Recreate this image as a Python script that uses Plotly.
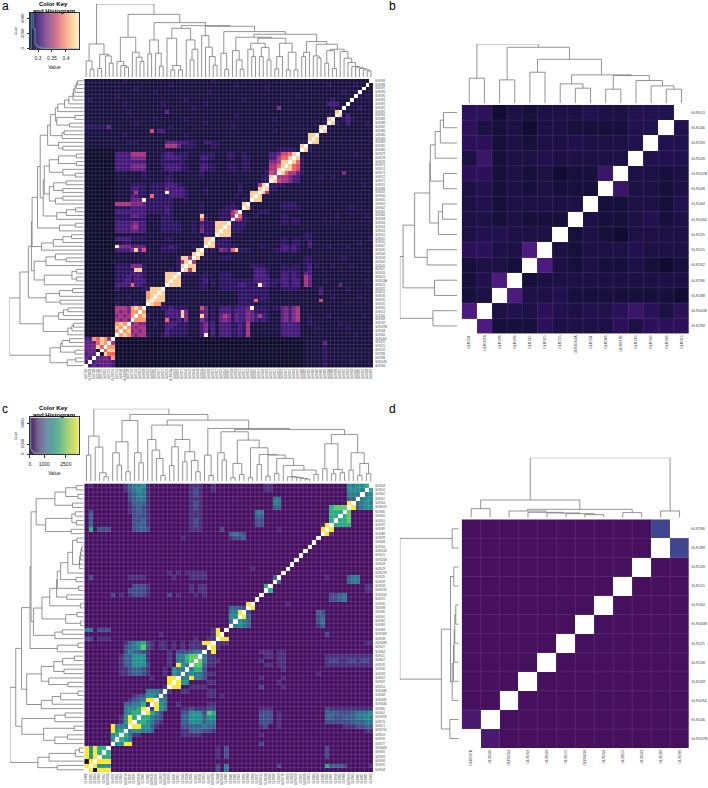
import plotly.graph_objects as go

W, H = 708, 788

# colours of the heat levels, last one is the white diagonal
colors_a = ["#0d0a2c", "#170f3e", "#2a1160", "#43177a", "#5f1e80", "#7d2482", "#a9327c",
            "#d0456f", "#f1605d", "#fd9668", "#fecd90", "#fcf5b8", "#ffffff"]
colors_b = ["#120c33", "#170f3c", "#1c1044", "#21114e", "#2b1159", "#3a1667", "#4d1a80", "#ffffff"]
colors_c = ["#120a1c", "#470f62", "#472d7b", "#3f4a8a", "#35608d", "#2a788e", "#21908c",
            "#27ad81", "#5cc863", "#aadc32", "#fde725", "#ffffff"]
colors_d = ["#46105f", "#4a1a72", "#40458f", "#ffffff"]
key_colors_a = ["#1c1a3a", "#5a3a8a", "#8f5a9a", "#c8708f", "#f49a8a", "#fdd0a0", "#fdf2c0"]
key_colors_c = ["#46205f", "#7a6a9a", "#6f8fa8", "#5aaa9a", "#7cc48a", "#c0d870", "#f5e860"]

# panel a, one string per row from the bottom, cells left of the diagonal
rows_a = [
    "",
    "3",
    "43",
    "344",
    "4440",
    "445a8",
    "4448a9",
    "3398a96",
    "00000000",
    "00000000 9",
    "00000000 a9",
    "00000000 9a9",
    "00000000 6565",
    "00000000 56569",
    "00000000 656599",
    "00000000 6665 9a9",
    "00000000 21111211",
    "00000000 11111111 a",
    "00000000 11121111 9a",
    "00000000 11111111 9aa",
    "00000000 21111112 2aaa",
    "00000000 33338332 11111",
    "00000000 22332333 11111 a",
    "00000000 22232332 11111 aa",
    "00000000 22223332 11111 aaa",
    "00000000 22222aa2 11111 1212",
    "00000000 22225552 11111 1112 a",
    "00000001 11111111 11111 1112 6a",
    "00000000 11111111 11111 1112 aa6",
    "00000000 11111111 11111 1111 111a",
    "00000000 33335a47 11112 2221 1111 a",
    "00000000 b5553444 11112 2322 1112 12",
    "00000000 11221111 11111 1111 1111 11a",
    "00000000 33332222 11111 2211 1111 12aa",
    "00000000 11111111 11111 1111 1111 11221",
    "00000000 33334433 11112 2222 1112 15222a",
    "00000000 33335633 11112 2222 1112 14222aa",
    "00000000 33334533 11112 2222 1112 13222aaa",
    "00000000 22222222 11112 2211 1111 18211122 2",
    "00000000 22224433 11112 2211 1111 1a211122 26",
    "00000000 33333333 22222 3211 1111 12111122 268",
    "00000000 22223333 22222 3211 1111 12111112 2221",
    "00000000 66665554 22222 2211 1111 12111111 1211a",
    "00000000 1111444b 22222 2211 1211 11111111 111121",
    "00000000 11113322 18222 2333 3211 11111111 112111a",
    "00000000 11112622 12222 b333 3211 11211111 111211aa",
    "00000000 11113322 12222 4333 3211 11211111 11121111 a",
    "00000000 11112222 12222 3332 2111 11111111 11121111 6a",
    "00000000 11111111 11111 2211 1111 11111111 11111111 122",
    "00000000 11111112 11111 2211 1111 12111111 11111111 122a",
    "00000000 11111112 11111 1211 1111 12111111 11111111 11276",
    "00000000 33334444 11112 3333 2211 13322111 22212211 11266a",
    "00000000 33335555 11112 3333 2211 13322111 22212211 111668a",
    "00000000 33333333 11112 2222 2111 12211111 11112211 111556aa",
    "00000000 33335555 11112 3333 2211 13322111 22112211 11133688 a",
    "00000000 33336666 11112 3322 2211 12222111 22112111 11133477 8a",
    "00000000 11111111 11111 1111 1111 11111111 11111111 11111222 221",
    "11111111 11111111 11111 6664 2222 11112211 11111111 11111111 111a",
    "11111111 11122211 11111 4443 3322 11332211 11111111 11111111 11122",
    "11111111 11111111 11111 1111 1111 11111111 11111111 11111111 11111a",
    "11111111 11211111 11111 1111 1211 11111111 11111111 11111111 11111aa",
    "11111111 11111111 17133 1111 1111 11111111 11111111 11112111 11111111",
    "22222241 11111111 11111 1211 1111 11111111 12111111 11111111 11111111 a",
    "11111111 11111211 11111 1111 1111 11211111 11111111 11111111 11111111 12",
    "11111111 11111111 11211 1111 1211 11111111 11111111 11112111 11111111 11a",
    "11111111 11111111 11111 1111 1111 11111111 11211111 11111111 11111111 1121",
    "11111111 11121111 11111 4111 1111 11111111 11111111 11111111 11111111 1111a",
    "11111111 11111111 11111 1111 1112 11111111 11111111 11111511 11111111 111211",
    "11111111 11211111 11112 1111 1111 11211111 11111111 11111111 11111111 1133311",
    "12111111 11111111 11111 1111 1211 11111111 11112111 11111111 11111111 11121111",
    "11111111 21111111 11111 1111 1111 11111111 11111111 11111111 11211111 11111111 1",
    "11111111 11111111 11211 1111 1111 11121111 11111111 11111111 11111111 11111121 12",
    "11111111 11111211 11111 1111 1111 11111111 11111111 11211111 11111111 11111111 111",
    "11111111 11111111 11111 1211 1111 11111111 11211111 11111111 11111111 11211111 1211",
    "11111111 11211111 11111 1111 1111 11112111 11111111 11111111 11111111 11111111 11111",
]

# panel c, same way, "." is the background, k the black cell
rows_c = [
    "",
    "9",
    "k9",
    "959",
    "9596",
    "95966",
    "......",
    "...... 5",
    "...... 56",
    "...... 956",
    "...... 9444",
    "...... ..159",
    "...... ..1596",
    "...... ...4566",
    "...... ...45569",
    "...... ...334461",
    "...... ....12349 9",
    "...... .....1225 54",
    "...... ........4 443",
    "...... ......... ...1",
    "...... ......... ....9",
    "...... ......... 1...99",
    "...... ..1123321 ...1.54",
    "...... ..1123321 ...1.544",
    "...... ..1335552 ....1.954",
    "...... ..1335551 ....1.4467",
    "...... ..1335551 ....1.44677",
    "...... ...243321 ....1.222344",
    "...... ...234572 1.11.1.1.1111",
    "...... ...134562 1.11.1.1.11199",
    "22.111 ......... ..........1..11",
    "...... ......... ..1...........1 9",
    "44.222 ......... ..............1 9.",
    "...... ......... ............... ...",
    "...... ......... ............... ...4",
    "...... ......... ............... ...55",
    "...... ......... ............... ...449",
    "...... ......... ............... ...3332",
    "...... ......... ............... .......9",
    "...... ......... ............... .........",
    "...... 2.1.12221 ....2.1...1.1.. ..........",
    "...... ....22221 .........1.11.. ...........",
    "...... .....2221 .........1.11.. ...........6",
    "...... ......... ............... .............",
    ".2.... ....1111. .....1...1111.. .............3",
    "...... ......... ....1.1.11111.. ...............",
    "...... ......... ............... ........1...... .",
    "...... ......... ............... ............... ..",
    "...... ......... ............... ............... ...",
    "...... ......... ............... ............... ....",
    "...... ......... ............... ............... .....",
    "...... ......... ............... ............... ......",
    "...... ......... ............... ............... .......",
    "...... ......... .......1....... ...1223........ ........",
    "...... ......... ............... ...3432........ .........",
    ".6.222 .....2332 .........111... .2............1 .........9",
    ".3.... .....2331 .........121... .........22.... .........19",
    ".3.... .....2231 .........121... .........22.... ...........6",
    ".3.... .....2221 .........111... .........33.... ...........66",
    ".2.... ....12321 .........111... .........44.... ...........666",
    "...... ....12321 .........121... .............33 ...........6777",
    "...... ....13331 .........121... .............44 ............... 9",
    "...... ....23441 .........111... .............44 ............... 33",
    "...... ....23441 .........121... ............... ............... 444",
    "...... ...134541 .........121..1 ...........11.. ............... 5554",
    ".1.... ...134451 .........111..1 ...........11.. ............... 54556",
]

rows_b = ["", "6", "12", "136", "1221", "44226", "233222", "2212111", "23122222", "231212111",
          "4412120115", "25122322222", "441212232223", "4212022111133", "44021222322333"]
rows_d = ["", "1", "00", "000", "0000", "00000", "000000", "0000000", "00000000", "000000000",
          "0000000000", "00000000002"]

# leaf order, bottom to top and left to right
names_a = ("GLR284 GLR0038 GLR288 GLR286 GLR242 GLR015 GLR225 GLR0264 GLR264 GLR048 GLR037B GLR249 GLR269 "
           "GLR246 GLR013 GLR030 GLR031 GLR035 GLR036 GLR021 GLR022 GLR023 GLR024A GLR024 GLR026 GLR027 "
           "GLR041 GLR042 GLR043 GLR044 GLR045 GLR047 GLR050 GLR051 GLR052 GLR053 GLR054 GLR056 GLR058 "
           "GLR060 GLR061 GLR062 GLR063 GLR065 GLR066 GLR067 GLR068 GLR070 GLR071 GLR072 GLR073 GLR074 "
           "GLR075 GLR076 GLR078 GLR079 GLR080 GLR081 GLR082 GLR083 GLR085 GLR086 GLR087 GLR088 GLR089 "
           "GLR090 GLR091 GLR092 GLR093 GLR094 GLR095 GLR096 GLR097 GLR098 GLR099").split()
names_c = ("GLR008 GLR091 GLR094 GLR093 GLR092 GLR0608 GLR077 GLR055 GLR053 GLR0710 GLR071 GLR076 GLR0978 "
           "GLR001 GLR085 GLR0636 GLR0696 GLR069 GLR0348 GLR014 GLR037 GLR052 GLR033 GLR030 GLR035 GLR057 "
           "GLR011 GLR064 GLR027 GLR0698 GLR038 GLR0368 GLR083 GLR081 GLR087 GLR061 GLR096 GLR098 GLR090 "
           "GLR072 GLR0314 GLR0118 GLR034 GLR039 GLR020 GLR0278 GLR029 GLR028 GLR0268 GLR021 GLR0108 "
           "GLR064 GLR084 GLR099 GLR089 GLR095 GLR097 GLR010 GLR006 GLR080 GLR0074 GLR004 GLR007 GLR002 "
           "GLR001 GLR003").split()
names_b = ["GLR284", "GLR0038", "GLR288", "GLR286", "GLR242", "GLR015", "GLR225", "GLR0264A", "GLR264",
           "GLR048", "GLR037B", "GLR249", "GLR269", "GLR246", "GLR013"]
names_b_rows = ["GLR284", "GLR0038", "GLR288", "GLR286", "GLR242", "GLR015", "GLR225", "GLR0264", "GLR264",
                "GLR048", "GLR037B", "GLR249", "GLR269", "GLR246", "GLR013"]
names_d = ["GLR037B", "GLR246", "GLR0264", "GLR269", "GLR248", "GLR225", "GLR0438", "GLR264", "GLR015",
           "GLR249", "GLR288", "GLR286"]

# dendrograms, [height, left, right], 0 is a leaf
tree_a = [220,
    [100, [49, 0, [24, 0, 0]], [69, [26, 0, 0], [64, 0, [42, 0, 0]]]],
    [189,
        [120, [47, 0, [35, 0, [30, 0, 0]]], [75, 0, [60, 0, [47, 0, 0]]]],
        [164,
            [112, [70, 0, 0], [72, 0, [33, 0, 0]]],
            [155,
                [147, [117, 0, [35, [22, 0, 0], [22, 0, 0]]], [112, 0, [84, [52, 0, 0], 0]]],
                [153,
                    [125, 0, [90, 0, [62, 0, [36, 0, 0]]]],
                    [137,
                        [72, 0, [24, 0, 0]],
                        [129,
                            [120,
                                [80, 0, [52, 0, [24, 0, 0]]],
                                [117,
                                    [102, [84, 0, [62, 0, 0]], [89, [62, 0, 0], [52, 0, 0]]],
                                    [102, [62, [25, 0, 0], 0], [75, [22, 0, 0], [22, 0, 0]]]]],
                            [107,
                                [75, [62, 0, 0], 0],
                                [99,
                                    [64, 0, [58, 0, 0]],
                                    [84,
                                        [80, [42, 0, 0], [26, 0, 0]],
                                        [77, 0, [57, 0, [44, 0, [32, 0, [30, 0, [26, 0, [22, 0, [19, 0, 0]]]]]]]]]]]]]]]]]]
tree_c = [217,
    [135, [78, 0, 0], [102, 0, [25, 0, [13, 0, 0]]]],
    [200,
        [182, [118, [85, 0, [48, 0, 0]], [28, 0, 0]], [85, 0, [55, 0, 0]]],
        [183,
            [168,
                [125, 0, [93, 0, [68, 0, [17, 0, 0]]]],
                [125, [103, [47, 0, 0], 0], [88, [58, 0, 0], [62, 0, [28, 0, 0]]]]],
            [158,
                [78, 0, [17, 0, 0]],
                [155,
                    [148,
                        [85, 0, [63, 0, 0]],
                        [123,
                            [53, [10, 0, 0], [20, 0, 0]],
                            [100,
                                [10, 0, 0],
                                [80,
                                    [50, 0, 0],
                                    [78,
                                        [15, 0, 0],
                                        [68,
                                            [23, 0, 0],
                                            [47, 0, [33, [13, 0, [12, 0, [10, 0, [8, 0, [6, 0, 0]]]]], [20, 0, 0]]]]]]]]],
                    [140,
                        [112, [37, 0, 0], [35, [22, 0, 0], [25, 0, 0]]],
                        [85, [33, 0, 0], [53, [17, 0, 0], [22, 0, 0]]]]]]]]]
tree_b = [178, [75, 0, 0], [168, [70, 0, 0], [132, [93, 0, 0],
          [85, [58, 0, [45, 0, 0]], [83, [42, 0, 0], [68, 0, [52, 0, [42, 0, 0]]]]]]]]
tree_d = [180, [53, [27, 0, 0], [25, [20, 0, [16, 0, [14, 0, [12, 0, [9, 0, 0]]]]], [15, 0, 0]]], [20, 0, 0]]

# colour key data
key_vals_a = [0.271, 0.29, 0.31, 0.33, 0.35, 0.37, 0.39, 0.41, 0.43, 0.446]
key_vals_c = [0, 400, 800, 1200, 1600, 2000, 2400, 2800, 3100, 3400]
hist_edges_a = [0.271, 0.2755, 0.2825, 0.2895, 0.2965, 0.31, 0.33, 0.36, 0.40, 0.446]
hist_counts_a = [0, 4700, 2700, 550, 250, 100, 40, 15, 5, 5]
hist_edges_c = [0, 60, 130, 220, 320, 450, 620, 900, 1500, 3400]
hist_counts_c = [3500, 480, 340, 220, 120, 70, 30, 10, 5, 5]

fig = go.Figure()
axis_no = 0


def dom_x(x0, x1):
    return [x0 / W, x1 / W]


def dom_y(y0, y1):
    return [1 - y1 / H, 1 - y0 / H]


def new_axes(xdict, ydict):
    global axis_no
    axis_no += 1
    fig.update_layout(**{"xaxis%d" % axis_no: dict(xdict, anchor="y%d" % axis_no),
                         "yaxis%d" % axis_no: dict(ydict, anchor="x%d" % axis_no)})
    return "x%d" % axis_no, "y%d" % axis_no


def make_scale(colors):
    return [[i / (len(colors) - 1), col] for i, col in enumerate(colors)]


def make_matrix(rows, digits, bg):
    n = len(rows)
    white = len(digits)
    z = [[bg] * n for _ in range(n)]
    for r, row in enumerate(rows):
        z[r][r] = white
        for c, ch in enumerate(row.replace(" ", "")[:r]):
            z[r][c] = z[c][r] = digits.index(ch)
    return z


def walk(node, xs, hs, counter):
    # returns x position and height of this node
    if node == 0:
        counter[0] += 1
        return counter[0] - 1, 0
    h, left, right = node
    lx, lh = walk(left, xs, hs, counter)
    rx, rh = walk(right, xs, hs, counter)
    xs += [lx, lx, rx, rx, None]
    hs += [lh, h, h, rh, None]
    return (lx + rx) / 2, h


def panel(rows, digits, bg, colors, names, row_names, tree, main, top, left, font, grid_col):
    n = len(rows)
    z = make_matrix(rows, digits, bg)
    x0, x1, y0, y1 = main
    tickfont = dict(size=font, family="Liberation Sans", color="#444444")
    xa, ya = new_axes(
        dict(domain=dom_x(x0, x1), range=[-0.5, n - 0.5], tickmode="array", tickvals=list(range(n)),
             ticktext=names, tickangle=-90, tickfont=tickfont, showgrid=False, zeroline=False,
             ticks="", ticklabelstandoff=0),
        dict(domain=dom_y(y0, y1), range=[-0.5, n - 0.5], side="right", tickmode="array",
             tickvals=list(range(n)), ticktext=row_names, tickfont=tickfont, showgrid=False, zeroline=False,
             ticks="", ticklabelstandoff=1))
    fig.add_trace(go.Heatmap(z=z, xaxis=xa, yaxis=ya, colorscale=make_scale(colors), zmin=0, zmax=len(colors) - 1,
                             showscale=False, hoverinfo="skip"))
    # thin separators between the cells
    gx, gy = [], []
    for i in range(1, n):
        gx += [i - 0.5, i - 0.5, None, -0.5, n - 0.5, None]
        gy += [-0.5, n - 0.5, None, i - 0.5, i - 0.5, None]
    fig.add_trace(go.Scatter(x=gx, y=gy, xaxis=xa, yaxis=ya, mode="lines", line=dict(color=grid_col, width=0.5),
                             hoverinfo="skip", showlegend=False))
    xs, hs = [], []
    walk(tree, xs, hs, [0])
    line = dict(color="#707070", width=0.75)
    blank = dict(visible=False, fixedrange=True)
    xa, ya = new_axes(dict(blank, domain=dom_x(x0, x1), range=[-0.5, n - 0.5]),
                      dict(blank, domain=dom_y(*top), range=[0, tree[0]]))
    fig.add_trace(go.Scatter(x=xs, y=hs, xaxis=xa, yaxis=ya, mode="lines", line=line, cliponaxis=False,
                             hoverinfo="skip", showlegend=False))
    xa, ya = new_axes(dict(blank, domain=dom_x(*left), range=[tree[0], 0]),
                      dict(blank, domain=dom_y(y0, y1), range=[-0.5, n - 0.5]))
    fig.add_trace(go.Scatter(x=hs, y=xs, xaxis=xa, yaxis=ya, mode="lines", line=line, cliponaxis=False,
                             hoverinfo="skip", showlegend=False))


def color_key(vals, colors, edges, counts, hist_col, box, xticks, xtext, yticks, yrange):
    x0, x1, y0, y1 = box
    small = dict(size=5, family="Liberation Sans", color="#222222")
    frame = dict(showline=True, linecolor="#333333", linewidth=0.6, mirror=True, showgrid=False,
                 zeroline=False, ticks="outside", ticklen=2.5, tickwidth=0.5, tickcolor="#333333")
    xa, ya = new_axes(
        dict(frame, domain=dom_x(x0, x1), range=[vals[0], vals[-1]], tickmode="array", tickvals=xticks,
             ticktext=xtext, tickfont=small, ticklabelstandoff=2,
             title=dict(text="Value", font=small, standoff=5)),
        dict(frame, domain=dom_y(y0, y1), range=yrange, tickmode="array", tickvals=yticks,
             tickangle=-90, tickfont=dict(small, size=4.2), ticklabelstandoff=1,
             title=dict(text="Count", font=dict(small, size=3), standoff=2)))
    fig.add_trace(go.Heatmap(x=vals, y=yrange, z=[vals, vals], colorscale=make_scale(colors), zsmooth="best",
                             showscale=False, zmin=vals[0], zmax=vals[-1], xaxis=xa, yaxis=ya, hoverinfo="skip"))
    fig.add_trace(go.Scatter(x=edges, y=counts, xaxis=xa, yaxis=ya, mode="lines",
                             line=dict(color=hist_col, width=0.8, shape="hv"), hoverinfo="skip", showlegend=False))


digits_a = "0123456789ab"
digits_c = "k.123456789"
digits_b = "0123456"
digits_d = "012"

panel(rows_a, digits_a, 1, colors_a, names_a, names_a, tree_a, (83.5, 373, 79, 368), (4, 77.3), (8.5, 83), 2.7, "rgba(255,255,255,0.22)")
panel(rows_b, digits_b, 2, colors_b, names_b, names_b_rows, tree_b, (462, 690, 105, 334), (44, 103.3), (400, 457.3), 3.7, "rgba(255,255,255,0.18)")
panel(rows_c, digits_c, 1, colors_c, names_c, names_c, tree_c, (83.5, 373, 484, 773), (409.3, 481.7), (9, 83), 2.7, "rgba(255,255,255,0.25)")
panel(rows_d, digits_d, 0, colors_d, names_d, names_d, tree_d, (462, 690, 520, 749), (458.3, 518.3), (400, 459), 3.7, "rgba(255,255,255,0.18)")

color_key(key_vals_a, key_colors_a, hist_edges_a, hist_counts_a, "#5fb7c9", (29, 78, 13, 49),
          [0.3, 0.35, 0.4], ["0.3", "0.35", "0.4"], [0, 2000, 4000], [0, 4800])
color_key(key_vals_c, key_colors_c, hist_edges_c, hist_counts_c, "#78b6c4", (29, 78, 418, 455),
          [0, 1000, 2500], ["0", "1000", "2500"], [0, 1000, 3000], [0, 3600])


def label(text, px, py, size, bold=False):
    fig.add_annotation(x=px / W, y=1 - py / H, xref="paper", yref="paper", text="<b>%s</b>" % text if bold else text,
                       showarrow=False, font=dict(size=size, family="Liberation Sans", color="#000000"),
                       xanchor="center", yanchor="middle")


label("a", 5, 6, 12)
label("b", 393, 6, 12)
label("c", 4, 410, 12)
label("d", 393, 410, 12)
label("Color Key", 53, 4, 6, True)
label("and Histogram", 53, 11, 6, True)
label("Color Key", 53, 409, 6, True)
label("and Histogram", 53, 416, 6, True)

fig.update_layout(width=W, height=H, margin=dict(l=0, r=0, t=0, b=0), paper_bgcolor="white",
                  plot_bgcolor="white", showlegend=False)
fig.write_html("out.html", config={"displayModeBar": False}, post_script="document.body.style.margin='0';")
